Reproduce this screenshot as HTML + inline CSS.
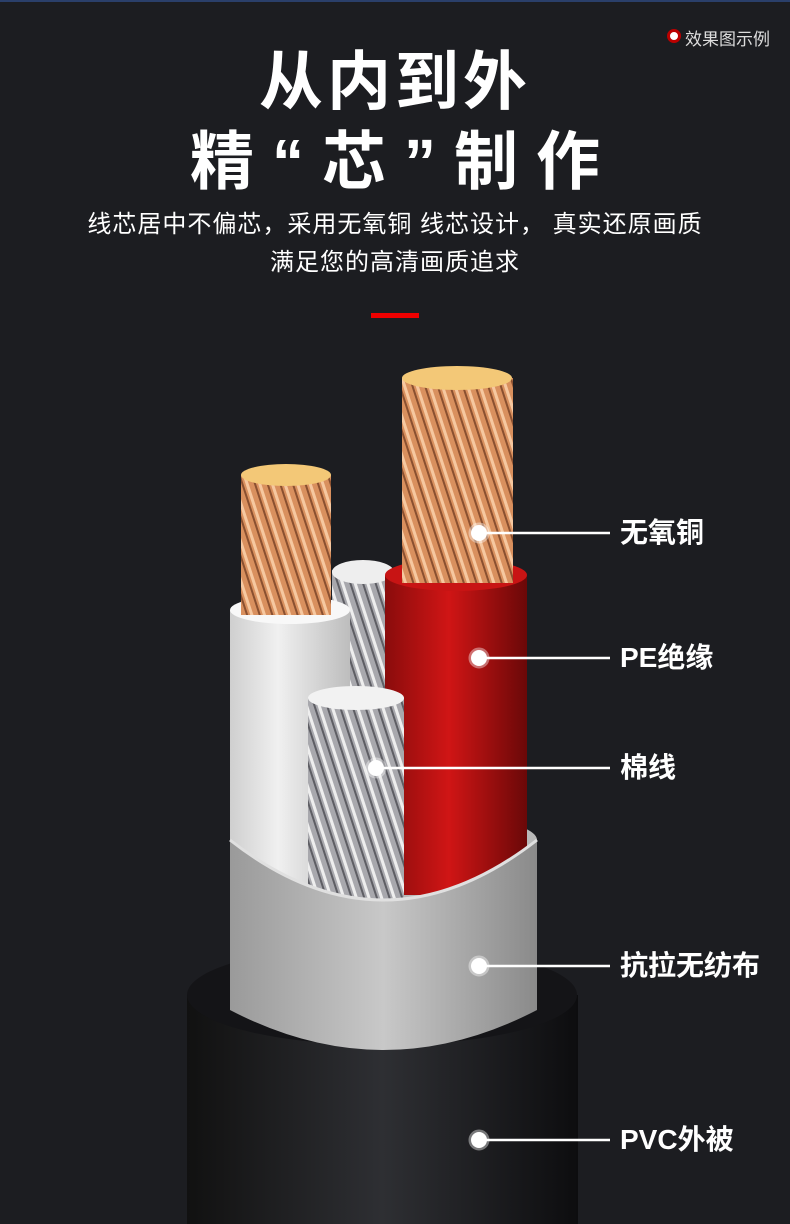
<!DOCTYPE html>
<html><head><meta charset="utf-8"><style>
body{margin:0;width:790px;height:1224px;background:#1c1d21;overflow:hidden;position:relative;font-family:"Liberation Sans","Noto Sans CJK SC",sans-serif;color:#fff}
.t{position:absolute;left:0;width:790px;text-align:center;font-weight:bold}
.lb{position:absolute;left:620px;font-size:28px;font-weight:bold;line-height:30px}
</style></head><body>
<div style="position:absolute;left:0;top:0;width:790px;height:2px;background:#2a3f6a"></div>
<div style="position:absolute;left:667px;top:29px;width:8px;height:8px;border:3px solid #b00;border-radius:50%;background:#fff"></div>
<div style="position:absolute;left:685px;top:25px;font-size:17px;color:#ddd">效果图示例</div>
<div class="t" style="top:44px;font-size:64px;line-height:76px;letter-spacing:4px">从内到外</div>
<div class="t" style="top:124px;font-size:64px;line-height:76px;letter-spacing:18px;padding-left:18px;box-sizing:border-box">精“芯”制作</div>
<div class="t" style="top:210px;font-size:24px;line-height:30px;font-weight:normal;letter-spacing:1px">线芯居中不偏芯，采用无氧铜 线芯设计，  真实还原画质</div>
<div class="t" style="top:248px;font-size:24px;line-height:30px;font-weight:normal;letter-spacing:1px">满足您的高清画质追求</div>
<div style="position:absolute;left:371px;top:313px;width:48px;height:5px;background:#e00"></div>
<svg width="790" height="1224" style="position:absolute;left:0;top:0">
<defs>
<linearGradient id="blk" x1="0" x2="1"><stop offset="0" stop-color="#111"/><stop offset=".5" stop-color="#2e2f33"/><stop offset="1" stop-color="#0d0d0f"/></linearGradient>
<linearGradient id="gry" x1="0" x2="1"><stop offset="0" stop-color="#9a9a9a"/><stop offset=".5" stop-color="#c8c8c8"/><stop offset="1" stop-color="#8a8a8a"/></linearGradient>
<linearGradient id="wht" x1="0" x2="1"><stop offset="0" stop-color="#cfcfcf"/><stop offset=".4" stop-color="#f0f0f0"/><stop offset="1" stop-color="#bdbdbd"/></linearGradient>
<linearGradient id="red" x1="0" x2="1"><stop offset="0" stop-color="#8a0c0c"/><stop offset=".45" stop-color="#d01515"/><stop offset="1" stop-color="#6a0808"/></linearGradient>
<pattern id="cu" width="12" height="40" patternUnits="userSpaceOnUse" patternTransform="rotate(-18)"><rect width="12" height="40" fill="#d9905e"/><rect width="3" height="40" fill="#f6c8a0"/><rect x="8" width="2" height="40" fill="#8a5030"/></pattern>
<pattern id="ag" width="12" height="40" patternUnits="userSpaceOnUse" patternTransform="rotate(-18)"><rect width="12" height="40" fill="#a8a8ad"/><rect width="3" height="40" fill="#eeeeee"/><rect x="8" width="2" height="40" fill="#5e5e64"/></pattern>
</defs>
<!-- jacket -->
<rect x="187" y="995" width="391" height="240" fill="url(#blk)"/>
<ellipse cx="382" cy="995" rx="195" ry="50" fill="#141417"/>
<!-- wrap back interior -->
<path d="M230 840 A153 30 0 0 1 537 840 L537 900 L230 900Z" fill="#b9b9b9"/>
<!-- back silver -->
<rect x="332" y="570" width="62" height="320" fill="url(#ag)"/>
<ellipse cx="363" cy="572" rx="31" ry="12" fill="#eee"/>
<!-- white wire -->
<rect x="230" y="610" width="120" height="290" fill="url(#wht)"/>
<ellipse cx="290" cy="610" rx="60" ry="14" fill="#f8f8f8"/>
<rect x="241" y="475" width="90" height="140" fill="url(#cu)"/>
<ellipse cx="286" cy="475" rx="45" ry="11" fill="#f3c877"/>
<!-- red wire -->
<rect x="385" y="575" width="142" height="320" fill="url(#red)"/>
<ellipse cx="456" cy="575" rx="71" ry="16" fill="#c81414"/>
<rect x="402" y="378" width="111" height="205" fill="url(#cu)"/>
<ellipse cx="457" cy="378" rx="55" ry="12" fill="#f3c877"/>
<!-- front silver -->
<rect x="308" y="698" width="96" height="210" fill="url(#ag)"/>
<ellipse cx="356" cy="698" rx="48" ry="12" fill="#f2f2f2"/>
<!-- wrap front face -->
<path d="M230 840 Q383 960 537 840 L537 1010 Q383 1090 230 1010Z" fill="url(#gry)"/>
<path d="M230 840 Q383 960 537 840" fill="none" stroke="#e0e0e0" stroke-width="3"/>
<g fill="#fff" stroke="#fff">
<line x1="480" y1="533" x2="610" y2="533" stroke-width="2.5"/>
<line x1="480" y1="658" x2="610" y2="658" stroke-width="2.5"/>
<line x1="377" y1="768" x2="610" y2="768" stroke-width="2.5"/>
<line x1="480" y1="966" x2="610" y2="966" stroke-width="2.5"/>
<line x1="480" y1="1140" x2="610" y2="1140" stroke-width="2.5"/>
</g>
<g fill="#fff" stroke="rgba(255,255,255,.4)" stroke-width="5">
<circle cx="479" cy="533" r="8"/><circle cx="479" cy="658" r="8"/><circle cx="376" cy="768" r="8"/><circle cx="479" cy="966" r="8"/><circle cx="479" cy="1140" r="8"/>
</g>
</svg>
<div class="lb" style="top:518px">无氧铜</div>
<div class="lb" style="top:643px">PE绝缘</div>
<div class="lb" style="top:753px">棉线</div>
<div class="lb" style="top:951px">抗拉无纺布</div>
<div class="lb" style="top:1125px">PVC外被</div>
</body></html>
